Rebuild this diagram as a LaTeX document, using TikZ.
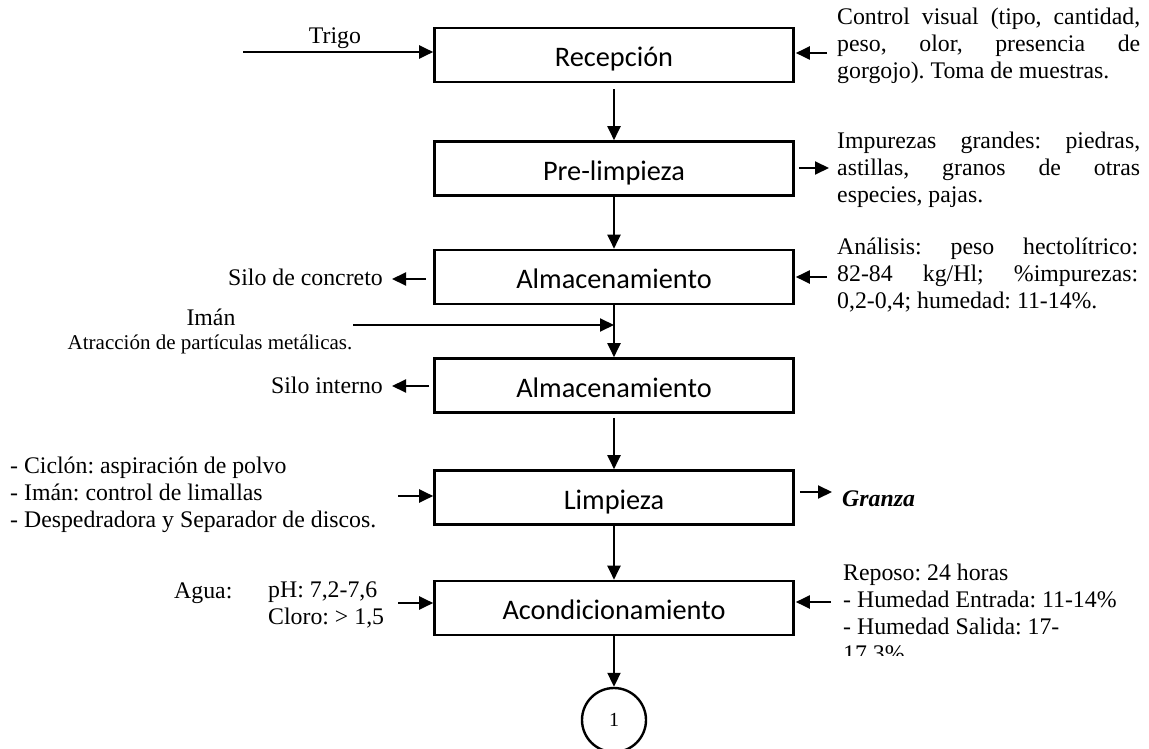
\documentclass[tikz,border=0pt]{standalone}
\usepackage{fontspec}
\setmainfont{Liberation Serif}
\newfontfamily\boxfont{Carlito}
\usetikzlibrary{arrows.meta}
\frenchspacing
\begin{document}
\begin{tikzpicture}[x=1pt,y=-1pt,
  proc/.style={draw,line width=2.6pt,minimum width=359pt,minimum height=54pt,inner sep=0pt,
    text height=23pt,text depth=0pt,font=\boxfont\fontsize{28.3}{34}\selectfont},
  arr/.style={line width=2pt,-{Triangle[length=14pt,width=13pt]}},
  lbl/.style={inner sep=0pt,font=\fontsize{23.8}{27}\selectfont},
  small/.style={inner sep=0pt,font=\fontsize{21}{25}\selectfont},
]
\useasboundingbox (0,0) rectangle (1149,749);

% process boxes
\node[proc] (b1) at (614,55) {Recepción};
\node[proc] (b2) at (614,168.5) {Pre-limpieza};
\node[proc] (b3) at (614,277) {Almacenamiento};
\node[proc] (b4) at (614,385.5) {Almacenamiento};
\node[proc] (b5) at (614,497.5) {Limpieza};
\node[proc] (b6) at (614,608) {Acondicionamiento};
\node[draw,circle,line width=2.4pt,minimum size=64pt,inner sep=0pt,
  font=\fontsize{20}{24}\selectfont] (c1) at (614,720) {1};

% main flow
\draw[arr,shorten <=6pt] (b1) -- (b2);
\draw[arr] (b2) -- (b3);
\draw[arr] (b3) -- (b4);
\draw[arr,shorten <=4pt] (b4) -- (b5);
\draw[arr] (b5) -- (b6);
\draw[arr] (b6) -- (c1);

% Trigo
\node[lbl,anchor=base] (trigo) at (335,44) {Trigo};
\coordinate (tTrigo) at (243,52);
\draw[arr] (tTrigo) -- (tTrigo -| b1.west);

% right texts (anchor = baseline of last line)
\node[lbl,anchor=base west,align=left] (r1) at (837,79)
  {\makebox[303pt][s]{Control visual (tipo, cantidad,}\\
   \makebox[303pt][s]{peso, olor, presencia de}\\
   gorgojo). Toma de muestras.};
\coordinate (tR1) at (827,53);
\draw[arr,shorten >=1pt] (tR1) -- (tR1 -| b1.east);

\node[lbl,anchor=base west,align=left] (r2) at (837,202)
  {\makebox[303pt][s]{Impurezas grandes: piedras,}\\
   \makebox[303pt][s]{astillas, granos de otras}\\
   especies, pajas.};
\coordinate (tR2) at (829,168);
\draw[arr,shorten <=4pt] (tR2 -| b2.east) -- (tR2);

\node[lbl,anchor=base west,align=left] (r3) at (837,308)
  {\makebox[301pt][s]{Análisis: peso hectolítrico:}\\
   \makebox[301pt][s]{82-84 kg/Hl; \%impurezas:}\\
   0,2-0,4; humedad: 11-14\%.};
\coordinate (tR3) at (827,277);
\draw[arr,shorten >=1pt] (tR3) -- (tR3 -| b3.east);

% left outputs
\node[lbl,anchor=base east] (silo1) at (383,285) {Silo de concreto};
\coordinate (tL3) at (392,279);
\draw[arr,shorten <=7pt] (tL3 -| b3.west) -- (tL3);

\node[lbl,anchor=base east] (silo2) at (383,393) {Silo interno};
\coordinate (tL4) at (392,386);
\draw[arr,shorten <=4pt] (tL4 -| b4.west) -- (tL4);

% Iman
\node[lbl,anchor=base] (iman) at (211,325) {Imán};
\node[small,anchor=base] (imandesc) at (210,349) {Atracción de partículas metálicas.};
\coordinate (tIman) at (353,325);
\draw[arr] (tIman) -- (tIman -| b3.south);

% Limpieza
\node[lbl,anchor=base west,align=left] (limp) at (10,527)
  {- Ciclón: aspiración de polvo\\
   - Imán: control de limallas\\
   - Despedradora y Separador de discos.};
\coordinate (tL5) at (398,496);
\draw[arr] (tL5) -- (tL5 -| b5.west);

\coordinate (tR5) at (832,492);
\draw[arr,shorten <=5pt] (tR5 -| b5.east) -- (tR5);
\node[lbl,anchor=base west,font=\fontsize{23.8}{27}\selectfont\bfseries\itshape] (granza) at (842,506) {Granza};

% Acondicionamiento
\node[lbl,anchor=base west] (agua) at (174,598) {Agua:};
\node[lbl,anchor=base west,align=left] (aguadesc) at (268,624)
  {pH: 7,2-7,6\\Cloro: > 1,5};
\coordinate (tL6) at (398,603);
\draw[arr] (tL6) -- (tL6 -| b6.west);

\begin{scope}
  \clip (835,555) rectangle (1149,655);
  \node[lbl,anchor=base west,align=left] (reposo) at (843,661)
    {Reposo: 24 horas\\
     - Humedad Entrada: 11-14\%\\
     - Humedad Salida: 17-\\
     17,3\%};
\end{scope}
\coordinate (tR6) at (831,602);
\draw[arr,shorten >=1pt] (tR6) -- (tR6 -| b6.east);
\end{tikzpicture}
\end{document}
